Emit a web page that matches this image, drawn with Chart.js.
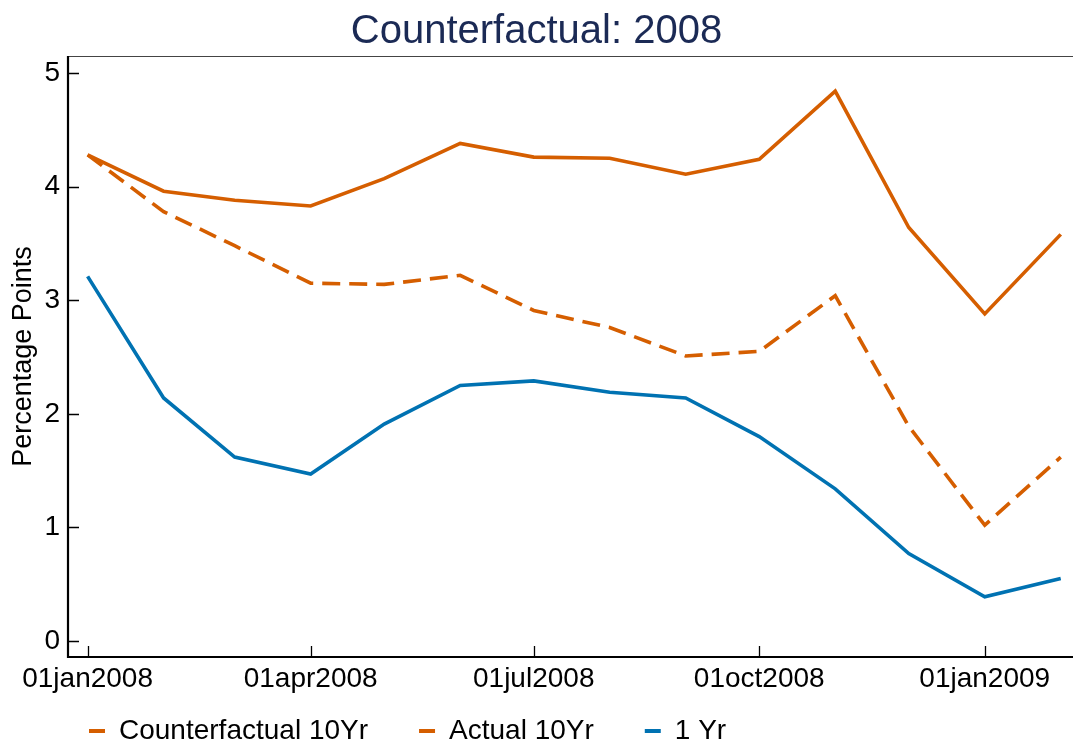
<!DOCTYPE html>
<html>
<head>
<meta charset="utf-8">
<title>Counterfactual: 2008</title>
<script src="https://cdn.jsdelivr.net/npm/chart.js@4.4.1/dist/chart.umd.min.js"></script>
<style>
    html, body { margin: 0; padding: 0; background: #fff; }
</style>
</head>
<body>
<canvas id="lineChart" width="1073" height="744"></canvas>
<script>
// monthly observations, first of each month
var months = ['2008-01-01', '2008-02-01', '2008-03-01', '2008-04-01', '2008-05-01', '2008-06-01', '2008-07-01',
    '2008-08-01', '2008-09-01', '2008-10-01', '2008-11-01', '2008-12-01', '2009-01-01', '2009-02-01'];

var counterfactual10 = [4.28, 3.78, 3.48, 3.15, 3.14, 3.22, 2.91, 2.76, 2.51, 2.55, 3.04, 1.89, 1.02, 1.62];
var actual10 = [4.28, 3.96, 3.88, 3.83, 4.07, 4.38, 4.26, 4.25, 4.11, 4.24, 4.84, 3.64, 2.88, 3.58];
var oneYear = [3.21, 2.14, 1.62, 1.47, 1.91, 2.25, 2.29, 2.19, 2.14, 1.80, 1.34, 0.77, 0.39, 0.55];

var xTickDates = ['2008-01-01', '2008-04-01', '2008-07-01', '2008-10-01', '2009-01-01'];
var xTickLabels = ['01jan2008', '01apr2008', '01jul2008', '01oct2008', '01jan2009'];
var yTicks = [0, 1, 2, 3, 4, 5];

var FONT = '"Liberation Sans", Arial, Helvetica, sans-serif';
var ORANGE = '#d55e00';
var BLUE = '#0072b2';

// days since the first month, so the x axis is spaced by calendar time
function dayOf(d) {
    return (Date.parse(d) - Date.parse(months[0])) / 86400000;
}

function toPoints(values) {
    return values.map(function (v, i) {
        return { x: dayOf(months[i]), y: v };
    });
}

var xTickValues = xTickDates.map(dayOf);

// Stata-style frame: axis lines with ticks pointing into the plot
var framePlugin = {
    id: 'frame',
    afterLayout: function (chart) {
        // legend row sits under the date labels, starting near the left
        var lg = chart.legend;
        lg.left = 38;
        lg.top = 666;
        lg.bottom = chart.height;
    },
    afterDatasetsDraw: function (chart) {
        var ctx = chart.ctx;
        var a = chart.chartArea;
        var xs = chart.scales.x;
        var ys = chart.scales.y;
        ctx.save();
        ctx.strokeStyle = '#444';
        ctx.lineWidth = 1.2;
        ctx.beginPath();
        ctx.moveTo(a.left, a.top + 0.5);
        ctx.lineTo(a.right, a.top + 0.5);
        ctx.stroke();

        ctx.strokeStyle = '#000';
        ctx.lineWidth = 2.2;
        ctx.beginPath();
        ctx.moveTo(a.left, a.top);
        ctx.lineTo(a.left, a.bottom);
        ctx.lineTo(a.right, a.bottom);
        ctx.stroke();

        ctx.lineWidth = 1.3;
        ctx.beginPath();
        yTicks.forEach(function (v) {
            var py = Math.round(ys.getPixelForValue(v)) + 0.5;
            ctx.moveTo(a.left, py);
            ctx.lineTo(a.left + 11, py);
        });
        xTickValues.forEach(function (v) {
            var px = Math.round(xs.getPixelForValue(v)) + 0.5;
            ctx.moveTo(px, a.bottom);
            ctx.lineTo(px, a.bottom - 11);
        });
        ctx.stroke();
        ctx.restore();
    }
};

var ctx = document.getElementById('lineChart').getContext('2d');
var lineChart = new Chart(ctx, {
    type: 'line',
    data: {
        datasets: [{
            label: 'Counterfactual 10Yr',
            data: toPoints(counterfactual10),
            borderColor: ORANGE,
            backgroundColor: ORANGE,
            borderWidth: 3.6,
            borderDash: [18, 9],
            pointRadius: 0,
            tension: 0
        }, {
            label: 'Actual 10Yr',
            data: toPoints(actual10),
            borderColor: ORANGE,
            backgroundColor: ORANGE,
            borderWidth: 3.6,
            pointRadius: 0,
            tension: 0
        }, {
            label: '1 Yr',
            data: toPoints(oneYear),
            borderColor: BLUE,
            backgroundColor: BLUE,
            borderWidth: 3.6,
            pointRadius: 0,
            tension: 0
        }]
    },
    options: {
        responsive: false,
        devicePixelRatio: 1,
        animation: false,
        layout: {
            padding: 0
        },
        plugins: {
            title: {
                display: true,
                text: 'Counterfactual: 2008',
                color: '#1b2a55',
                font: { family: FONT, size: 40, weight: 'normal' },
                padding: { top: 8, bottom: 0 }
            },
            legend: {
                position: 'bottom',
                align: 'start',
                maxHeight: 50,
                labels: {
                    color: '#000',
                    font: { family: FONT, size: 28 },
                    boxWidth: 16,
                    boxHeight: 4,
                    padding: 51,
                    generateLabels: function (chart) {
                        return Chart.defaults.plugins.legend.labels.generateLabels(chart).map(function (item) {
                            item.fillStyle = item.strokeStyle;
                            item.lineWidth = 0;
                            item.lineDash = [];
                            return item;
                        });
                    }
                }
            },
            tooltip: { enabled: false }
        },
        scales: {
            x: {
                type: 'linear',
                min: -8,
                max: 402,
                grid: { display: false, drawTicks: false },
                border: { display: false },
                afterFit: function (scale) { scale.height = 37; },
                afterBuildTicks: function (scale) {
                    scale.ticks = xTickValues.map(function (v) { return { value: v }; });
                },
                ticks: {
                    color: '#000',
                    padding: 5,
                    maxRotation: 0,
                    autoSkip: false,
                    font: { family: FONT, size: 28 },
                    callback: function (value) {
                        var i = xTickValues.indexOf(value);
                        return i >= 0 ? xTickLabels[i] : '';
                    }
                }
            },
            y: {
                min: -0.14,
                max: 5.15,
                grid: { display: false, drawTicks: false },
                border: { display: false },
                afterFit: function (scale) { scale.width = 68; },
                afterBuildTicks: function (scale) {
                    scale.ticks = yTicks.map(function (v) { return { value: v }; });
                },
                ticks: {
                    color: '#000',
                    padding: 8,
                    font: { family: FONT, size: 28 }
                },
                title: {
                    display: true,
                    text: 'Percentage Points',
                    color: '#000',
                    font: { family: FONT, size: 27 },
                    padding: { top: 7, bottom: 0 }
                }
            }
        }
    },
    plugins: [framePlugin]
});
</script>
</body>
</html>
